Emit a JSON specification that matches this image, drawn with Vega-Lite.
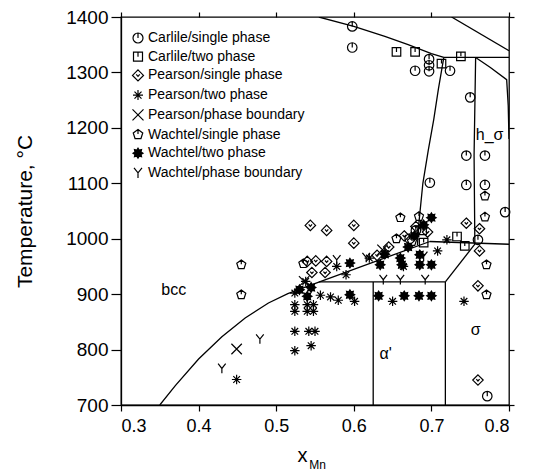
{
  "$schema": "https://vega.github.io/schema/vega-lite/v6.json",
  "width": 388,
  "height": 388,
  "autosize": {"type": "none"},
  "padding": {"left": 121, "top": 17, "right": 24, "bottom": 68},
  "background": "white",
  "config": {
    "font": "Liberation Sans",
    "view": {"stroke": "black", "strokeWidth": 1.3},
    "axis": {"domainColor": "black", "tickColor": "black", "labelColor": "black", "titleColor": "black", "grid": false, "labelFont": "Liberation Sans", "titleFont": "Liberation Sans", "titleFontWeight": "normal", "domainWidth": 1.3, "tickWidth": 1.2},
    "legend": {"labelFont": "Liberation Sans", "labelColor": "black", "symbolStrokeColor": "black"}
  },
  "datasets": {
    "pts": [
      {"series": "Carlile/single phase", "x": 0.598, "T": 1383},
      {"series": "Carlile/single phase", "x": 0.598, "T": 1345},
      {"series": "Carlile/single phase", "x": 0.679, "T": 1303},
      {"series": "Carlile/single phase", "x": 0.697, "T": 1324},
      {"series": "Carlile/single phase", "x": 0.697, "T": 1313},
      {"series": "Carlile/single phase", "x": 0.697, "T": 1302},
      {"series": "Carlile/single phase", "x": 0.724, "T": 1303},
      {"series": "Carlile/single phase", "x": 0.750, "T": 1255},
      {"series": "Carlile/single phase", "x": 0.745, "T": 1150},
      {"series": "Carlile/single phase", "x": 0.769, "T": 1150},
      {"series": "Carlile/single phase", "x": 0.698, "T": 1101},
      {"series": "Carlile/single phase", "x": 0.745, "T": 1097},
      {"series": "Carlile/single phase", "x": 0.769, "T": 1097},
      {"series": "Carlile/single phase", "x": 0.795, "T": 1048},
      {"series": "Carlile/single phase", "x": 0.760, "T": 998},
      {"series": "Carlile/single phase", "x": 0.772, "T": 716},
      {"series": "Carlile/single phase", "x": 0.680, "T": 1015},
      {"series": "Carlile/single phase", "x": 0.672, "T": 1000},
      {"series": "Carlile/two phase", "x": 0.655, "T": 1337},
      {"series": "Carlile/two phase", "x": 0.679, "T": 1337},
      {"series": "Carlile/two phase", "x": 0.713, "T": 1316},
      {"series": "Carlile/two phase", "x": 0.738, "T": 1329},
      {"series": "Carlile/two phase", "x": 0.733, "T": 1004},
      {"series": "Carlile/two phase", "x": 0.743, "T": 987},
      {"series": "Carlile/two phase", "x": 0.688, "T": 1015},
      {"series": "Carlile/two phase", "x": 0.690, "T": 993},
      {"series": "Pearson/single phase", "x": 0.544, "T": 1024},
      {"series": "Pearson/single phase", "x": 0.565, "T": 1015},
      {"series": "Pearson/single phase", "x": 0.600, "T": 1024},
      {"series": "Pearson/single phase", "x": 0.600, "T": 992},
      {"series": "Pearson/single phase", "x": 0.540, "T": 959},
      {"series": "Pearson/single phase", "x": 0.551, "T": 960},
      {"series": "Pearson/single phase", "x": 0.565, "T": 959},
      {"series": "Pearson/single phase", "x": 0.546, "T": 939},
      {"series": "Pearson/single phase", "x": 0.563, "T": 939},
      {"series": "Pearson/single phase", "x": 0.745, "T": 1028},
      {"series": "Pearson/single phase", "x": 0.762, "T": 1018},
      {"series": "Pearson/single phase", "x": 0.762, "T": 978},
      {"series": "Pearson/single phase", "x": 0.760, "T": 915},
      {"series": "Pearson/single phase", "x": 0.760, "T": 745},
      {"series": "Pearson/single phase", "x": 0.645, "T": 985},
      {"series": "Pearson/single phase", "x": 0.665, "T": 1005},
      {"series": "Pearson/single phase", "x": 0.680, "T": 1022},
      {"series": "Pearson/single phase", "x": 0.695, "T": 1012},
      {"series": "Pearson/single phase", "x": 0.630, "T": 970},
      {"series": "Pearson/two phase", "x": 0.524, "T": 902},
      {"series": "Pearson/two phase", "x": 0.524, "T": 881},
      {"series": "Pearson/two phase", "x": 0.524, "T": 869},
      {"series": "Pearson/two phase", "x": 0.540, "T": 881},
      {"series": "Pearson/two phase", "x": 0.548, "T": 881},
      {"series": "Pearson/two phase", "x": 0.540, "T": 869},
      {"series": "Pearson/two phase", "x": 0.548, "T": 869},
      {"series": "Pearson/two phase", "x": 0.524, "T": 833},
      {"series": "Pearson/two phase", "x": 0.542, "T": 833},
      {"series": "Pearson/two phase", "x": 0.550, "T": 833},
      {"series": "Pearson/two phase", "x": 0.524, "T": 798},
      {"series": "Pearson/two phase", "x": 0.545, "T": 807},
      {"series": "Pearson/two phase", "x": 0.449, "T": 746},
      {"series": "Pearson/two phase", "x": 0.650, "T": 887},
      {"series": "Pearson/two phase", "x": 0.742, "T": 887},
      {"series": "Pearson/two phase", "x": 0.720, "T": 998},
      {"series": "Pearson/two phase", "x": 0.708, "T": 978},
      {"series": "Pearson/two phase", "x": 0.578, "T": 950},
      {"series": "Pearson/two phase", "x": 0.557, "T": 898},
      {"series": "Pearson/two phase", "x": 0.570, "T": 895},
      {"series": "Pearson/two phase", "x": 0.580, "T": 889},
      {"series": "Pearson/two phase", "x": 0.601, "T": 887},
      {"series": "Pearson/two phase", "x": 0.664, "T": 950},
      {"series": "Pearson/two phase", "x": 0.538, "T": 923},
      {"series": "Pearson/two phase", "x": 0.590, "T": 935},
      {"series": "Pearson/two phase", "x": 0.620, "T": 965},
      {"series": "Pearson/phase boundary", "x": 0.449, "T": 801},
      {"series": "Pearson/phase boundary", "x": 0.637, "T": 980},
      {"series": "Pearson/phase boundary", "x": 0.536, "T": 923},
      {"series": "Wachtel/single phase", "x": 0.455, "T": 953},
      {"series": "Wachtel/single phase", "x": 0.455, "T": 899},
      {"series": "Wachtel/single phase", "x": 0.660, "T": 1038},
      {"series": "Wachtel/single phase", "x": 0.684, "T": 1040},
      {"series": "Wachtel/single phase", "x": 0.769, "T": 1077},
      {"series": "Wachtel/single phase", "x": 0.769, "T": 1039},
      {"series": "Wachtel/single phase", "x": 0.771, "T": 953},
      {"series": "Wachtel/single phase", "x": 0.771, "T": 899},
      {"series": "Wachtel/single phase", "x": 0.535, "T": 955},
      {"series": "Wachtel/single phase", "x": 0.655, "T": 1000},
      {"series": "Wachtel/single phase", "x": 0.675, "T": 995},
      {"series": "Wachtel/two phase", "x": 0.632, "T": 897},
      {"series": "Wachtel/two phase", "x": 0.665, "T": 897},
      {"series": "Wachtel/two phase", "x": 0.684, "T": 897},
      {"series": "Wachtel/two phase", "x": 0.700, "T": 897},
      {"series": "Wachtel/two phase", "x": 0.700, "T": 1038},
      {"series": "Wachtel/two phase", "x": 0.595, "T": 956},
      {"series": "Wachtel/two phase", "x": 0.634, "T": 953},
      {"series": "Wachtel/two phase", "x": 0.662, "T": 953},
      {"series": "Wachtel/two phase", "x": 0.685, "T": 953},
      {"series": "Wachtel/two phase", "x": 0.700, "T": 953},
      {"series": "Wachtel/two phase", "x": 0.685, "T": 971},
      {"series": "Wachtel/two phase", "x": 0.660, "T": 965},
      {"series": "Wachtel/two phase", "x": 0.530, "T": 908},
      {"series": "Wachtel/two phase", "x": 0.540, "T": 896},
      {"series": "Wachtel/two phase", "x": 0.545, "T": 912},
      {"series": "Wachtel/two phase", "x": 0.595, "T": 899},
      {"series": "Wachtel/two phase", "x": 0.640, "T": 972},
      {"series": "Wachtel/two phase", "x": 0.670, "T": 985},
      {"series": "Wachtel/two phase", "x": 0.678, "T": 1005},
      {"series": "Wachtel/two phase", "x": 0.690, "T": 1025},
      {"series": "Wachtel/phase boundary", "x": 0.479, "T": 819},
      {"series": "Wachtel/phase boundary", "x": 0.430, "T": 766},
      {"series": "Wachtel/phase boundary", "x": 0.638, "T": 926},
      {"series": "Wachtel/phase boundary", "x": 0.660, "T": 926},
      {"series": "Wachtel/phase boundary", "x": 0.692, "T": 926},
      {"series": "Wachtel/phase boundary", "x": 0.616, "T": 966},
      {"series": "Wachtel/phase boundary", "x": 0.578, "T": 962},
      {"series": "Wachtel/phase boundary", "x": 0.690, "T": 968}
    ],
    "bounds": [
      {"seg": "solvus", "ord": 1, "x": 0.35, "T": 700},
      {"seg": "solvus", "ord": 2, "x": 0.37, "T": 735},
      {"seg": "solvus", "ord": 3, "x": 0.40, "T": 783},
      {"seg": "solvus", "ord": 4, "x": 0.43, "T": 823},
      {"seg": "solvus", "ord": 5, "x": 0.46, "T": 857},
      {"seg": "solvus", "ord": 6, "x": 0.49, "T": 884},
      {"seg": "solvus", "ord": 7, "x": 0.515, "T": 901},
      {"seg": "solvus", "ord": 8, "x": 0.54, "T": 914},
      {"seg": "solvus", "ord": 9, "x": 0.698, "T": 995},
      {"seg": "a_top", "ord": 1, "x": 0.555, "T": 922},
      {"seg": "a_top", "ord": 2, "x": 0.718, "T": 922},
      {"seg": "a_left", "ord": 1, "x": 0.625, "T": 700},
      {"seg": "a_left", "ord": 2, "x": 0.625, "T": 922},
      {"seg": "s_left", "ord": 1, "x": 0.718, "T": 700},
      {"seg": "s_left", "ord": 2, "x": 0.718, "T": 922},
      {"seg": "diag", "ord": 1, "x": 0.718, "T": 922},
      {"seg": "diag", "ord": 2, "x": 0.757, "T": 992},
      {"seg": "h990", "ord": 1, "x": 0.698, "T": 995},
      {"seg": "h990", "ord": 2, "x": 0.80, "T": 990},
      {"seg": "bcc_up", "ord": 1, "x": 0.682, "T": 988},
      {"seg": "bcc_up", "ord": 2, "x": 0.684, "T": 1030},
      {"seg": "bcc_up", "ord": 3, "x": 0.689, "T": 1100},
      {"seg": "bcc_up", "ord": 4, "x": 0.696, "T": 1160},
      {"seg": "bcc_up", "ord": 5, "x": 0.703, "T": 1215},
      {"seg": "bcc_up", "ord": 6, "x": 0.709, "T": 1270},
      {"seg": "bcc_up", "ord": 7, "x": 0.716, "T": 1327},
      {"seg": "top", "ord": 1, "x": 0.555, "T": 1400},
      {"seg": "top", "ord": 2, "x": 0.60, "T": 1383},
      {"seg": "top", "ord": 3, "x": 0.64, "T": 1365},
      {"seg": "top", "ord": 4, "x": 0.67, "T": 1350},
      {"seg": "top", "ord": 5, "x": 0.70, "T": 1334},
      {"seg": "top", "ord": 6, "x": 0.716, "T": 1327},
      {"seg": "h1327", "ord": 1, "x": 0.716, "T": 1327},
      {"seg": "h1327", "ord": 2, "x": 0.80, "T": 1327},
      {"seg": "hs_left", "ord": 1, "x": 0.757, "T": 1327},
      {"seg": "hs_left", "ord": 2, "x": 0.755, "T": 1150},
      {"seg": "hs_left", "ord": 3, "x": 0.756, "T": 992},
      {"seg": "hs_right", "ord": 1, "x": 0.757, "T": 1327},
      {"seg": "hs_right", "ord": 2, "x": 0.776, "T": 1309},
      {"seg": "hs_right", "ord": 3, "x": 0.797, "T": 1287},
      {"seg": "hs_right", "ord": 4, "x": 0.799, "T": 1240},
      {"seg": "hs_right", "ord": 5, "x": 0.80, "T": 1180},
      {"seg": "corner", "ord": 1, "x": 0.726, "T": 1400},
      {"seg": "corner", "ord": 2, "x": 0.80, "T": 1339}
    ],
    "labels": [
      {"lab": "bcc", "x": 0.368, "T": 908},
      {"lab": "α'", "x": 0.641, "T": 792},
      {"lab": "σ", "x": 0.757, "T": 835},
      {"lab": "h_σ", "x": 0.775, "T": 1187}
    ]
  },
  "layer": [
    {
      "data": {"name": "bounds"},
      "mark": {"type": "line", "color": "black", "strokeWidth": 1.3, "clip": true},
      "encoding": {
        "x": {"field": "x", "type": "quantitative", "scale": {"domain": [0.3, 0.8], "nice": false, "zero": false},
              "axis": {"orient": "top", "labels": false, "title": null, "domain": false, "values": [0.3, 0.4, 0.5, 0.6, 0.7, 0.8], "tickSize": 5}},
        "y": {"field": "T", "type": "quantitative", "scale": {"domain": [700, 1400], "nice": false, "zero": false},
              "axis": {"orient": "right", "labels": false, "title": null, "domain": false, "values": [700, 800, 900, 1000, 1100, 1200, 1300, 1400], "tickSize": 5}},
        "detail": {"field": "seg"},
        "order": {"field": "ord", "type": "quantitative"}
      }
    },
    {
      "data": {"name": "pts"},
      "mark": {"type": "point", "color": "black", "strokeWidth": 1.2, "size": 90, "opacity": 1},
      "encoding": {
        "x": {"field": "x", "type": "quantitative",
              "axis": {"orient": "bottom", "values": [0.3, 0.4, 0.5, 0.6, 0.7, 0.8], "format": ".1f", "labelFontSize": 18, "tickSize": 6, "labelPadding": 6,
                       "title": "x", "titleFontSize": 20, "titlePadding": 10, "titleX": 181, "titleAnchor": "middle"}},
        "y": {"field": "T", "type": "quantitative",
              "axis": {"orient": "left", "values": [700, 800, 900, 1000, 1100, 1200, 1300, 1400], "format": "d", "labelFontSize": 19, "tickSize": 10, "labelPadding": 3,
                       "title": "Temperature, °C", "titleFontSize": 21, "titlePadding": 30}},
        "shape": {"field": "series", "type": "nominal",
          "scale": {
            "domain": ["Carlile/single phase", "Carlile/two phase", "Pearson/single phase", "Pearson/two phase", "Pearson/phase boundary", "Wachtel/single phase", "Wachtel/two phase", "Wachtel/phase boundary"],
            "range": [
              "M-1,0A1,1,0,1,1,1,0A1,1,0,1,1,-1,0ZM0,-1L0,0",
              "M-0.9,-0.9H0.9V0.9H-0.9ZM0,-0.9V0",
              "M0,-1.1L1.1,0L0,1.1L-1.1,0ZM-0.35,-0.2L0,0.2L0.35,-0.2",
              "M-1,0H1M0,-1V1M-0.7,-0.7L0.7,0.7M-0.7,0.7L0.7,-0.7",
              "M-1.1,-1.1L1.1,1.1M-1.1,1.1L1.1,-1.1",
              "M0,-1L0.95,-0.31L0.59,0.81L-0.59,0.81L-0.95,-0.31ZM0,-1V-0.1",
              "M1,0L0.6,0.25L0.71,0.71L0.25,0.6L0,1L-0.25,0.6L-0.71,0.71L-0.6,0.25L-1,0L-0.6,-0.25L-0.71,-0.71L-0.25,-0.6L0,-1L0.25,-0.6L0.71,-0.71L0.6,-0.25Z",
              "M-0.8,-1L0,0L0.8,-1M0,0V1"
            ]
          },
          "legend": {"title": null, "orient": "none", "legendX": 10, "legendY": 14, "labelFontSize": 14, "symbolSize": 100, "rowPadding": 3.7, "labelOffset": 3, "symbolStrokeWidth": 1.2}
        },
        "fill": {"field": "series", "type": "nominal",
          "scale": {
            "domain": ["Carlile/single phase", "Carlile/two phase", "Pearson/single phase", "Pearson/two phase", "Pearson/phase boundary", "Wachtel/single phase", "Wachtel/two phase", "Wachtel/phase boundary"],
            "range": ["transparent", "transparent", "transparent", "transparent", "transparent", "transparent", "black", "transparent"]
          },
          "legend": {"title": null, "orient": "none", "legendX": 10, "legendY": 14, "labelFontSize": 14, "symbolSize": 100, "rowPadding": 3.7, "labelOffset": 3, "symbolStrokeWidth": 1.2}
        },
        "stroke": {"field": "series", "type": "nominal",
          "scale": {
            "domain": ["Carlile/single phase", "Carlile/two phase", "Pearson/single phase", "Pearson/two phase", "Pearson/phase boundary", "Wachtel/single phase", "Wachtel/two phase", "Wachtel/phase boundary"],
            "range": ["black", "black", "black", "black", "black", "black", "black", "black"]
          },
          "legend": {"title": null, "orient": "none", "legendX": 10, "legendY": 14, "labelFontSize": 14, "symbolSize": 100, "rowPadding": 3.7, "labelOffset": 3, "symbolStrokeWidth": 1.2}
        }
      }
    },
    {
      "data": {"name": "labels"},
      "mark": {"type": "text", "fontSize": 16, "font": "Liberation Sans", "color": "black", "align": "center", "baseline": "middle"},
      "encoding": {
        "x": {"field": "x", "type": "quantitative", "axis": null},
        "y": {"field": "T", "type": "quantitative", "axis": null},
        "text": {"field": "lab"}
      }
    },
    {
      "data": {"values": [{"sub": "Mn", "x": 0.5425, "T": 700}]},
      "mark": {"type": "text", "fontSize": 12, "font": "Liberation Sans", "color": "black", "align": "left", "baseline": "middle", "dy": 60},
      "encoding": {
        "x": {"field": "x", "type": "quantitative", "axis": null},
        "y": {"field": "T", "type": "quantitative", "axis": null},
        "text": {"field": "sub"}
      }
    }
  ],
  "resolve": {"axis": {"x": "independent", "y": "independent"}}
}
